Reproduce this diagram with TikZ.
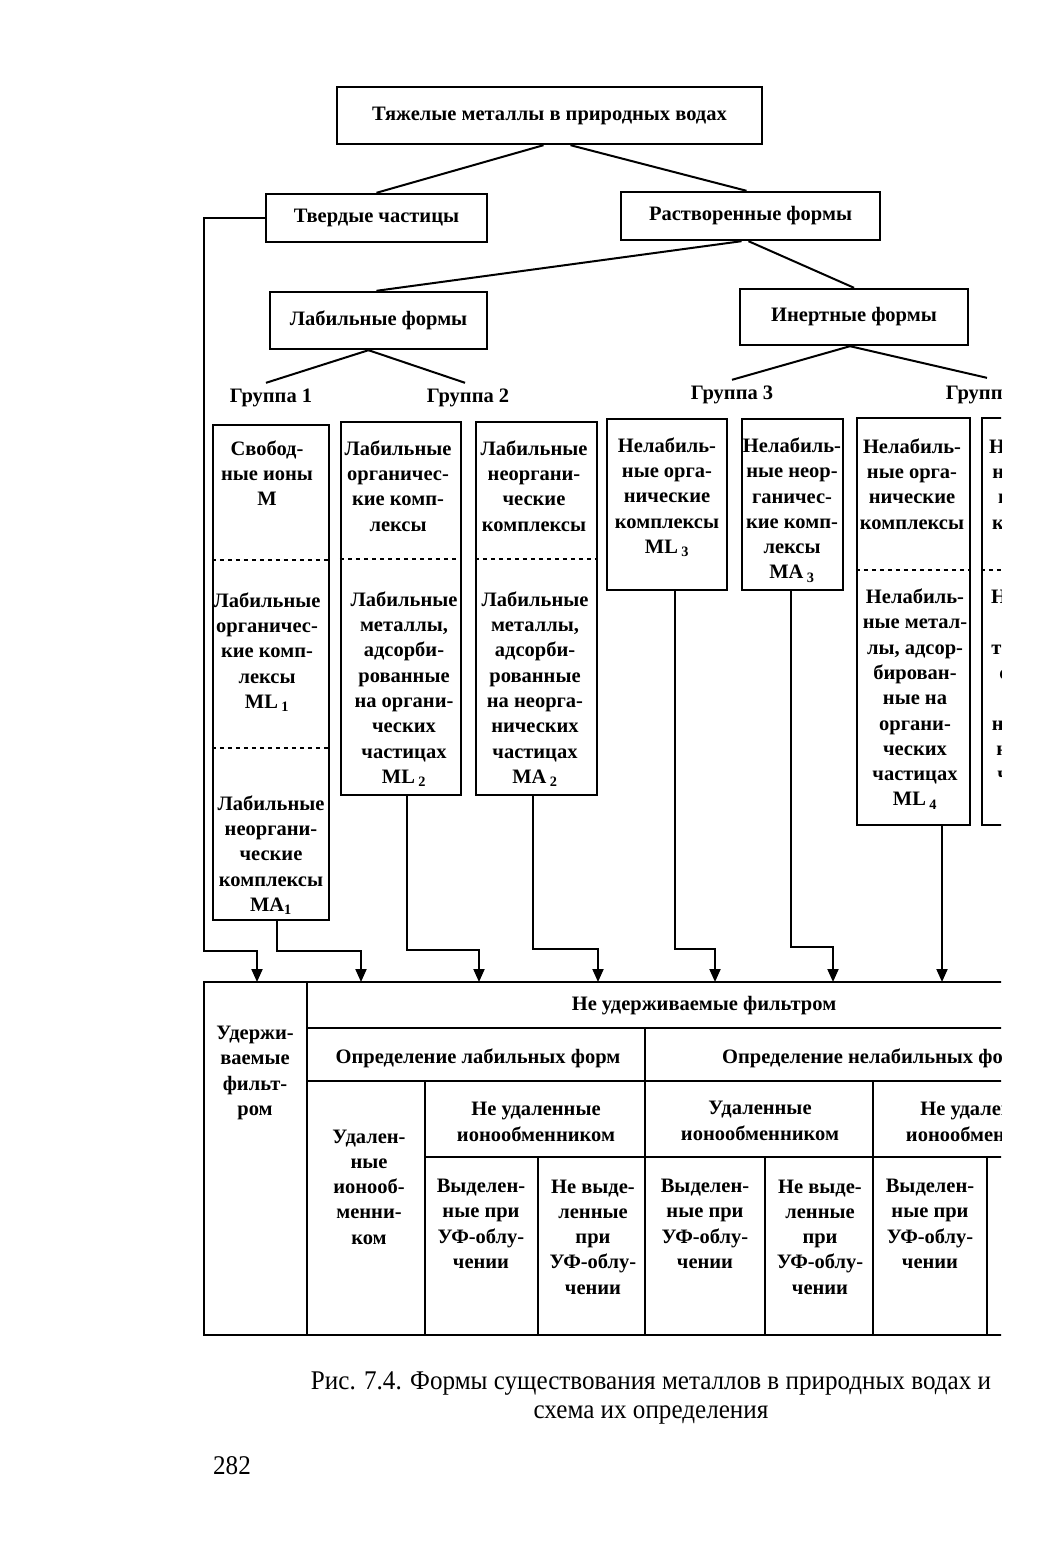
\documentclass[tikz,border=0pt]{standalone}
\usepackage{fontspec}
\setmainfont{Liberation Serif}
\newfontfamily\capfont[FakeStretch=0.93]{Liberation Serif}
\usepackage{tikz}
\usetikzlibrary{calc,arrows.meta}

\newcommand{\diagfont}{\fontsize{20.5}{25.3}\selectfont\bfseries}
\newcommand{\capsize}{\fontsize{27}{29}\selectfont\capfont}

\tikzset{
	box/.style={draw, line width=2.4pt, inner sep=0pt},
	txt/.style={align=center, inner sep=0pt, font=\diagfont},
	tree/.style={line width=2pt},
	dotsep/.style={line width=2pt, dash pattern=on 4pt off 4pt},
	grid/.style={line width=2.6pt},
	arr/.style={line width=2pt, -{Triangle[width=11pt,length=13pt]}}
}

\begin{document}
\begin{tikzpicture}[x=1pt,y=-1pt]
	\fill[white] (0,0) rectangle (1049,1562);
	\useasboundingbox (0,0) rectangle (1049,1562);

	\begin{scope}
	\clip (0,0) rectangle (1001,1562);	%page edge

	%tree boxes
	\node[box, txt, minimum width=425pt, minimum height=57pt] (heavy) at (549.5,115.5) {Тяжелые металлы в природных водах};
	\node[box, txt, minimum width=221pt, minimum height=48pt] (solid) at (376.5,218) {Твердые частицы};
	\node[box, txt, minimum width=259pt, minimum height=48pt] (diss) at (750.5,216) {Растворенные формы};
	\node[box, txt, minimum width=217pt, minimum height=57pt] (labile) at (378.5,320.5) {Лабильные формы};
	\node[box, txt, minimum width=228pt, minimum height=56pt] (inert) at (854,317) {Инертные формы};
		\node[txt] (g1) at (271,398) {Группа 1};
		\node[txt] (g2) at (468,398) {Группа 2};
		\node[txt] (g3) at (732,395) {Группа 3};
		\node[txt] (g4) at (987,395) {Группа 4};

	%tree lines
	\draw[tree] ([xshift=-6pt]heavy.south) -- (solid.north);
	\draw[tree] ([xshift=21pt]heavy.south) -- ([xshift=-4pt]diss.north);
	\draw[tree] ([xshift=-9pt]diss.south) -- ([xshift=-2pt]labile.north);
	\draw[tree] ([xshift=-2pt]diss.south) -- (inert.north);
	\draw[tree] ([xshift=-10pt]labile.south) -- ([xshift=-5pt,yshift=6pt]g1.north);
	\draw[tree] ([xshift=-10pt]labile.south) -- ([xshift=-3pt,yshift=6pt]g2.north);
	\draw[tree] ([xshift=-4pt]inert.south) -- ([yshift=6pt]g3.north);
	\draw[tree] ([xshift=-4pt]inert.south) -- ([yshift=8pt]g4.north);

	%columns
	\node[box, minimum width=116pt, minimum height=495pt] (c1) at (271,672.5) {};
	\node[box, minimum width=120pt, minimum height=373pt] (c2) at (401,608.5) {};
	\node[box, minimum width=121pt, minimum height=373pt] (c3) at (536.5,608.5) {};
	\node[box, minimum width=120pt, minimum height=171pt] (c4) at (667,504.5) {};
	\node[box, minimum width=101pt, minimum height=171pt] (c5) at (792.5,504.5) {};
	\node[box, minimum width=113pt, minimum height=407pt] (c6) at (913.5,621.5) {};
	\node[box, minimum width=118pt, minimum height=407pt] (c7) at (1041,621.5) {};
		\draw[dotsep] (c1.west |- 0,560) -- (c1.east |- 0,560);
		\draw[dotsep] (c1.west |- 0,748) -- (c1.east |- 0,748);
		\draw[dotsep] (c2.west |- 0,559) -- (c2.east |- 0,559);
		\draw[dotsep] (c3.west |- 0,559) -- (c3.east |- 0,559);
		\draw[dotsep] (c6.west |- 0,570) -- (c6.east |- 0,570);
		\draw[dotsep] (c7.west |- 0,570) -- (c7.east |- 0,570);

	%column captions
	\node[txt] (c1a) at (267,473) {Свобод-\\ные ионы\\M};
	\node[txt] (c1b) at (267,652) {Лабильные\\органичес-\\кие комп-\\лексы\\ML\,\textsubscript{1}};
	\node[txt] (c1c) at (271,855) {Лабильные\\неоргани-\\ческие\\комплексы\\MA\textsubscript{1}};
	\node[txt] (c2a) at (398,486) {Лабильные\\органичес-\\кие комп-\\лексы};
	\node[txt] (c2b) at (404,689) {Лабильные\\металлы,\\адсорби-\\рованные\\на органи-\\ческих\\частицах\\ML\,\textsubscript{2}};
	\node[txt] (c3a) at (534,486) {Лабильные\\неоргани-\\ческие\\комплексы};
	\node[txt] (c3b) at (535,689) {Лабильные\\металлы,\\адсорби-\\рованные\\на неорга-\\нических\\частицах\\MA\,\textsubscript{2}};
	\node[txt] (c4a) at (667,497) {Нелабиль-\\ные орга-\\нические\\комплексы\\ML\,\textsubscript{3}};
	\node[txt] (c5a) at (792,510) {Нелабиль-\\ные неор-\\ганичес-\\кие комп-\\лексы\\MA\,\textsubscript{3}};
	\node[txt] (c6a) at (912,484) {Нелабиль-\\ные орга-\\нические\\комплексы};
	\node[txt] (c6b) at (915,699) {Нелабиль-\\ные метал-\\лы, адсор-\\бирован-\\ные на\\органи-\\ческих\\частицах\\ML\,\textsubscript{4}};
	\node[txt] (c7a) at (1038,484) {Нелабиль-\\ные неор-\\ганичес-\\кие комп-};
	\node[txt] (c7b) at (1040,699) {Нелабиль-\\ные ме-\\таллы, ад-\\сорбиро-\\ванные\\на неорга-\\нических\\частицах\\MA\,\textsubscript{4}};

	%arrow targets on the table
	\coordinate (t1) at (257,982);
	\coordinate (t2) at (361,982);
	\coordinate (t3) at (479,982);
	\coordinate (t4) at (598,982);
	\coordinate (t5) at (715,982);
	\coordinate (t6) at (833,982);
	\coordinate (t7) at (942,982);

	%arrows
	\draw[arr] (solid.west) -| (204,951) -| (t1);
	\draw[arr] ([xshift=6pt]c1.south) -- ++(0,30) -| (t2);
	\draw[arr] ([xshift=6pt]c2.south) -- ++(0,154) -| (t3);
	\draw[arr] ([xshift=-3.5pt]c3.south) -- ++(0,153) -| (t4);
	\draw[arr] ([xshift=8pt]c4.south) -- ++(0,358) -| (t5);
	\draw[arr] ([xshift=-1.5pt]c5.south) -- ++(0,356) -| (t6);
	\draw[arr] ([xshift=28.5pt]c6.south) -- (t7);

	%table
	\draw[grid] (1010,982) -- (204,982) -- (204,1335) -- (1010,1335);
	\draw[grid] (307,982) -- (307,1335);
	\draw[grid] (307,1028) -- (1010,1028);
	\draw[grid] (307,1081) -- (1010,1081);
	\draw[grid] (645,1028) -- (645,1335);
	\draw[grid] (425,1081) -- (425,1335);
	\draw[grid] (873,1081) -- (873,1335);
	\draw[grid] (425,1157) -- (1010,1157);
		\draw[grid] (538,1157) -- (538,1335);
		\draw[grid] (765,1157) -- (765,1335);
		\draw[grid] (987,1157) -- (987,1335);

	%table captions
	\node[txt] (keep) at (255,1073) {Удержи-\\ваемые\\фильт-\\ром};
	\node[txt] (pass) at (704,1006) {Не удерживаемые фильтром};
	\node[txt] (detl) at (478,1058) {Определение лабильных форм};
	\node[txt, anchor=west] (detn) at (722,1058) {Определение нелабильных форм};
	\node[txt] (rem1) at (369,1187) {Удален-\\ные\\ионооб-\\менни-\\ком};
	\node[txt] (nrem1) at (536,1122) {Не удаленные\\ионообменником};
	\node[txt] (rem2) at (760,1121) {Удаленные\\ионообменником};
	\node[txt] (nrem2) at (985,1122) {Не удаленные\\ионообменником};
		\node[txt] (uv1) at (481,1224) {Выделен-\\ные при\\УФ-облу-\\чении};
		\node[txt] (nuv1) at (593,1237) {Не выде-\\ленные\\при\\УФ-облу-\\чении};
		\node[txt] (uv2) at (705,1224) {Выделен-\\ные при\\УФ-облу-\\чении};
		\node[txt] (nuv2) at (820,1237) {Не выде-\\ленные\\при\\УФ-облу-\\чении};
		\node[txt] (uv3) at (930,1224) {Выделен-\\ные при\\УФ-облу-\\чении};
	\end{scope}

	%figure caption
	\node[align=center, inner sep=0pt, font=\capsize] (cap) at (651,1398) {Рис. 7.4. Формы существования металлов в природных водах и\\схема их определения};
	\node[inner sep=0pt, font=\capsize] (page) at (232,1466) {282};
\end{tikzpicture}
\end{document}
